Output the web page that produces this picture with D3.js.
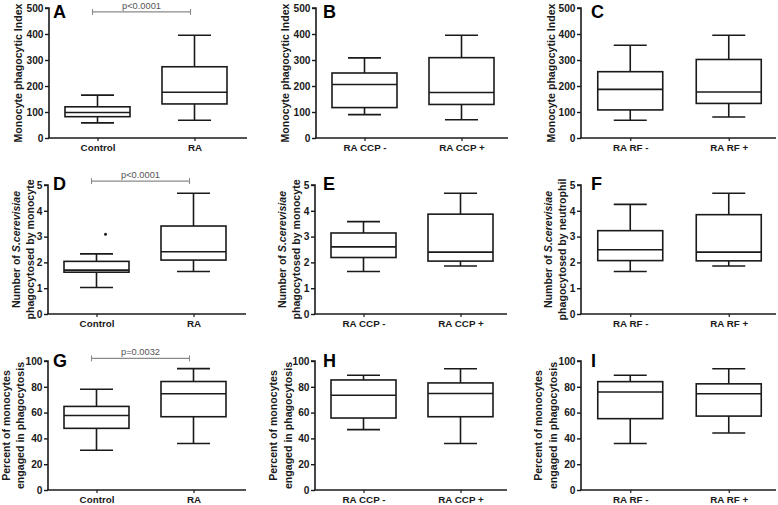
<!DOCTYPE html>
<html>
<head>
<meta charset="utf-8">
<script src="https://cdn.jsdelivr.net/npm/d3@7"></script>
<style>
  html, body { margin: 0; padding: 0; background: #fff; }
  svg { display: block; font-family: "Liberation Sans", Arial, sans-serif; }
</style>
</head>
<body>
<svg id="chart" width="778" height="505"></svg>
<script>
// ---------------- DATA ----------------
const panelLetters = ["A", "B", "C", "D", "E", "F", "G", "H", "I"];

const groupsControlRA = ["Control", "RA"];
const groupsCCP = ["RA CCP -", "RA CCP +"];
const groupsRF = ["RA RF -", "RA RF +"];

// box stats: [whisker low, Q1, median, Q3, whisker high]
const indexControlRA = [[58, 82, 98, 120, 165], [68, 131, 176, 274, 395]];
const indexCCP       = [[90, 117, 206, 250, 308], [70, 129, 175, 309, 395]];
const indexRF        = [[68, 108, 187, 255, 357], [81, 133, 177, 302, 395]];

const monoNumControlRA = [[1.03, 1.62, 1.70, 2.04, 2.33], [1.65, 2.09, 2.41, 3.41, 4.68]];
const monoNumCCP       = [[1.65, 2.19, 2.60, 3.14, 3.58], [1.86, 2.05, 2.40, 3.87, 4.68]];
const neutNumRF        = [[1.65, 2.07, 2.49, 3.23, 4.25], [1.86, 2.06, 2.40, 3.85, 4.68]];
const monoNumOutliers  = [[3.09], []];

const pctControlRA = [[30.8, 47.8, 57.8, 64.8, 78.1], [36.0, 56.8, 74.6, 84.1, 94.1]];
const pctCCP       = [[46.8, 55.8, 73.5, 85.3, 89.0], [36.0, 56.8, 74.8, 83.0, 94.0]];
const pctRF        = [[36.0, 55.3, 76.0, 84.0, 89.0], [44.2, 57.3, 74.6, 82.3, 94.0]];

const ticksIndex = [0, 100, 200, 300, 400, 500];
const ticksNumber = [0, 1, 2, 3, 4, 5];
const ticksPercent = [0, 20, 40, 60, 80, 100];

const labelIndex = ["Monocyte phagocytic Index"];
const labelMonoNum = [["Number of ", "S.cerevisiae", ""], ["phagocytosed by monocyte"]];
const labelNeutNum = [["Number of ", "S.cerevisiae", ""], ["phagocytosed by neutrophil"]];
const labelPct = ["Percent of monocytes", "engaged in phagocytosis"];

// significance comparisons: [group1, group2, p label, bracket level]
const sigA = ["Control", "RA", "p<0.0001", 485];
const sigD = ["Control", "RA", "p<0.0001", 5.15];
const sigG = ["Control", "RA", "p=0.0032", 102];

// ---------------- LAYOUT ----------------
const rowLayout = [
  { top: 8, bottom: 138, letterY: 18 },
  { top: 185, bottom: 314, letterY: 190 },
  { top: 361, bottom: 490, letterY: 367 }
];
const colAxisX = [[49, 316, 581], [48, 315, 581], [48, 315, 581]];
const colLetterX = [53, 323, 591];
const xLineLen = [198, 192, 195];
const ylabelX = [
  [[18], [285], [551]],
  [[16, 30], [282, 296], [548, 562]],
  [[6, 20], [273, 288], [538, 553]]
];

const panels = [
  { groups: groupsControlRA, stats: indexControlRA, ticks: ticksIndex, max: 500, label: labelIndex, sig: sigA },
  { groups: groupsCCP, stats: indexCCP, ticks: ticksIndex, max: 500, label: labelIndex },
  { groups: groupsRF, stats: indexRF, ticks: ticksIndex, max: 500, label: labelIndex },
  { groups: groupsControlRA, stats: monoNumControlRA, ticks: ticksNumber, max: 5, label: labelMonoNum, sig: sigD, outliers: monoNumOutliers },
  { groups: groupsCCP, stats: monoNumCCP, ticks: ticksNumber, max: 5, label: labelMonoNum },
  { groups: groupsRF, stats: neutNumRF, ticks: ticksNumber, max: 5, label: labelNeutNum },
  { groups: groupsControlRA, stats: pctControlRA, ticks: ticksPercent, max: 100, label: labelPct, sig: sigG },
  { groups: groupsCCP, stats: pctCCP, ticks: ticksPercent, max: 100, label: labelPct },
  { groups: groupsRF, stats: pctRF, ticks: ticksPercent, max: 100, label: labelPct }
];

const svg = d3.select("#chart");
const ink = "#1a1a1a";
const boxW = 65;
const capW = 33;

panels.forEach((p, i) => {
  const r = Math.floor(i / 3), c = i % 3;
  const L = rowLayout[r];
  const x0 = colAxisX[r][c];
  const g = svg.append("g");

  const y = d3.scaleLinear().domain([0, p.max]).range([L.bottom, L.top]);
  const x = d3.scalePoint().domain(p.groups).range([x0, x0 + 194 + (c === 2 ? 3 : 0)]).padding(0.5);

  // y axis
  const yAxis = d3.axisLeft(y).tickValues(p.ticks).tickSize(4).tickPadding(1.5).tickFormat(d3.format("d"));
  const ya = g.append("g").attr("transform", `translate(${x0},0)`).call(yAxis);
  ya.select(".domain").attr("stroke", ink).attr("stroke-width", 1.6).attr("d", `M-4,${L.top}H0V${L.bottom}`);
  ya.selectAll(".tick line").attr("stroke", ink).attr("stroke-width", 1.4);
  ya.selectAll(".tick text").attr("fill", ink).attr("font-size", 10.2).attr("font-weight", "bold")
    .attr("font-family", "Liberation Sans, Arial, sans-serif");

  // x axis
  const xAxis = d3.axisBottom(x).tickSize(3).tickPadding(3);
  const xa = g.append("g").attr("transform", `translate(0,${L.bottom})`).call(xAxis);
  xa.select(".domain").attr("stroke", ink).attr("stroke-width", 1.6).attr("d", `M${x0 - 0.8},0H${x0 + xLineLen[c]}`);
  xa.selectAll(".tick line").attr("stroke", ink).attr("stroke-width", 1.2);
  xa.selectAll(".tick text").attr("fill", ink).attr("font-size", 9.8).attr("font-weight", "bold")
    .attr("font-family", "Liberation Sans, Arial, sans-serif");

  // boxes
  p.groups.forEach((grp, j) => {
    const [lo, q1, med, q3, hi] = p.stats[j];
    const cx = x(grp);
    const bg = g.append("g").attr("stroke", ink).attr("stroke-width", 1.6).attr("fill", "none");
    bg.append("line").attr("x1", cx).attr("x2", cx).attr("y1", y(hi)).attr("y2", y(q3));
    bg.append("line").attr("x1", cx).attr("x2", cx).attr("y1", y(q1)).attr("y2", y(lo));
    bg.append("line").attr("x1", cx - capW / 2).attr("x2", cx + capW / 2).attr("y1", y(hi)).attr("y2", y(hi));
    bg.append("line").attr("x1", cx - capW / 2).attr("x2", cx + capW / 2).attr("y1", y(lo)).attr("y2", y(lo));
    bg.append("rect").attr("x", cx - boxW / 2).attr("width", boxW).attr("y", y(q3)).attr("height", y(q1) - y(q3))
      .attr("fill", "#fff");
    bg.append("line").attr("x1", cx - boxW / 2).attr("x2", cx + boxW / 2).attr("y1", y(med)).attr("y2", y(med));
    if (p.outliers) {
      p.outliers[j].forEach(v => {
        g.append("circle").attr("cx", cx + 9).attr("cy", y(v)).attr("r", 1.5).attr("fill", ink);
      });
    }
  });

  // significance bracket
  if (p.sig) {
    const [g1, g2, txt, lvl] = p.sig;
    const xa1 = x(g1) - 5, xa2 = x(g2) - 4, yy = y(lvl);
    const sg = g.append("g").attr("stroke", "#8a8a8a").attr("stroke-width", 1.1);
    sg.append("line").attr("x1", xa1).attr("x2", xa2).attr("y1", yy).attr("y2", yy);
    sg.append("line").attr("x1", xa1).attr("x2", xa1).attr("y1", yy - 3).attr("y2", yy + 3);
    sg.append("line").attr("x1", xa2).attr("x2", xa2).attr("y1", yy - 3).attr("y2", yy + 3);
    g.append("text").attr("x", (xa1 + xa2) / 2).attr("y", Math.max(yy - 3.5, 8.8)).attr("text-anchor", "middle")
      .attr("font-size", 9.3).attr("fill", "#555").text(txt);
  }

  // panel letter
  g.append("text").attr("x", colLetterX[c]).attr("y", L.letterY).attr("font-size", 18).attr("font-weight", "bold")
    .attr("fill", "#000").text(panelLetters[i]);

  // y label
  const midY = (L.top + L.bottom) / 2;
  p.label.forEach((line, k) => {
    const lx = ylabelX[r][c][k];
    const t = g.append("text").attr("transform", `translate(${lx},${midY}) rotate(-90)`)
      .attr("text-anchor", "middle").attr("dominant-baseline", "central")
      .attr("font-size", 10.6).attr("font-weight", "bold").attr("fill", ink);
    if (Array.isArray(line)) {
      line.forEach((part, m) => {
        if (part === "") return;
        t.append("tspan").attr("font-style", m === 1 ? "italic" : "normal").text(part);
      });
    } else {
      t.text(line);
    }
  });
});
</script>
</body>
</html>
